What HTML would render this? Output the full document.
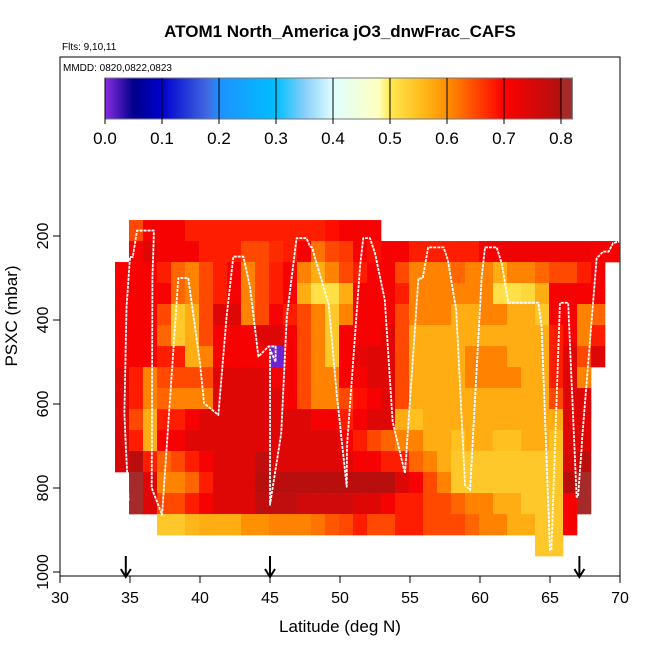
<!DOCTYPE html>
<html><head><meta charset="utf-8">
<style>
html,body{margin:0;padding:0;background:#fff;}
svg{display:block;font-family:"Liberation Sans",Arial,sans-serif;}
</style></head>
<body>
<svg id="chart" width="650" height="650" viewBox="0 0 650 650">
<defs>
<linearGradient id="cbgrad" x1="0" x2="1" y1="0" y2="0"></linearGradient>
</defs>
<text x="340" y="37" text-anchor="middle" font-size="17" font-weight="bold">ATOM1 North_America jO3_dnwFrac_CAFS</text>
<text x="62" y="50" font-size="10">Flts: 9,10,11</text>
<g id="cells"></g>
<g id="track"></g>
<rect x="60" y="57" width="560" height="519" fill="none" stroke="#000" stroke-width="1"/>
<text x="63" y="71" font-size="10">MMDD: 0820,0822,0823</text>
<g id="colorbar"></g>
<g id="xaxis"></g>
<g id="yaxis"></g>
<g id="arrows"></g>
<text x="340" y="632" text-anchor="middle" font-size="17">Latitude (deg N)</text>
<text transform="translate(17,316) rotate(-90)" text-anchor="middle" font-size="17">PSXC (mbar)</text>
</svg>
<script>
const n = null;
const latStart = 33.93;
const presStart = 162;
const presStep = 50;
const row0  = [n,.65,.71,.71,.71,.68,.68,.68,.68,.68,.68,.68,.68,.68,.68,.69,.71,.71,.71,n,n,n,n,n,n,n,n,n,n,n,n,n,n,n,n,n];
const row1  = [n,.71,.74,.71,.71,.71,.68,.68,.68,.65,.65,.67,.68,.71,.62,.65,.66,.71,.69,.71,.71,.68,.68,.68,.68,.68,.71,.72,.72,.72,.72,.72,.72,.72,.71,.71];
const row2  = [.71,.71,.71,.68,.63,.61,.65,.68,.71,.61,.65,.68,.71,.61,.57,.61,.65,.68,.71,.71,.65,.61,.61,.61,.63,.61,.61,.57,.61,.61,.63,.65,.65,.68,.71,n];
const row3  = [.71,.71,.71,.71,.63,.61,.65,.68,.71,.61,.65,.68,.71,.57,.51,.51,.57,.71,.71,.71,.68,.61,.61,.61,.61,.61,.61,.51,.51,.52,.57,.71,.71,.71,.71,n];
const row4  = [.71,.71,.71,.65,.54,.57,.65,.74,.74,.61,.65,.71,.68,.65,.61,.54,.61,.71,.71,.71,.65,.61,.61,.61,.57,.57,.61,.61,.57,.57,.54,.71,.71,.61,.63,n];
const row5  = [.71,.71,.71,.63,.54,.57,.65,.71,.71,.71,.74,.74,.71,.65,.61,.54,.71,.71,.71,.74,.65,.57,.57,.57,.57,.57,.57,.57,.57,.57,.57,.68,.71,.61,.68,n];
const row6  = [.71,.71,.71,.68,.68,.57,.61,.71,.71,.71,.71,.01,.71,.65,.61,.54,.71,.73,.74,.74,.65,.57,.57,.57,.57,.61,.61,.61,.57,.57,.57,.68,.74,.65,.74,n];
const row7  = [.74,.68,.61,.65,.65,.65,.65,.74,.74,.74,.74,.71,.71,.65,.61,.61,.71,.71,.74,.74,.65,.57,.57,.57,.57,.61,.61,.61,.61,.57,.57,.68,.74,.61,n,n];
const row8  = [.74,.68,.61,.63,.61,.61,.61,.74,.74,.74,.74,.74,.71,.65,.61,.61,.65,.69,.71,.74,.65,.57,.57,.57,.57,.57,.57,.57,.57,.57,.57,.65,.74,.74,n,n];
const row9  = [.74,.65,.57,.68,.68,.71,.74,.74,.74,.74,.74,.74,.74,.74,.71,.71,.68,.71,.74,.74,.57,.55,.57,.57,.57,.57,.57,.57,.57,.57,.57,.57,.74,.74,n,n];
const row10 = [.75,.68,.57,.71,.71,.74,.74,.74,.74,.74,.74,.74,.74,.74,.74,.74,.71,.68,.65,.63,.61,.61,.57,.57,.55,.57,.57,.55,.55,.57,.57,.55,.74,.74,n,n];
const row11 = [.75,.79,.68,.63,.65,.68,.71,.74,.74,.74,.78,.74,.74,.74,.74,.74,.74,.71,.71,.68,.68,.63,.61,.57,.54,.54,.54,.54,.54,.54,.54,.54,.75,.79,n,n];
const row12 = [n,.81,.74,.61,.61,.63,.68,.74,.74,.74,.79,.79,.79,.79,.79,.79,.79,.79,.79,.79,.74,.71,.65,.61,.54,.54,.54,.54,.54,.54,.54,.54,.79,.81,n,n];
const row13 = [n,.81,.74,.65,.65,.68,.71,.74,.74,.74,.78,.78,.78,.76,.76,.76,.76,.74,.74,.71,.68,.68,.65,.65,.63,.61,.61,.57,.57,.54,.54,.54,.71,.81,n,n];
const row14 = [n,n,n,.54,.54,.56,.57,.57,.57,.60,.60,.61,.61,.61,.62,.64,.65,.68,.65,.65,.68,.68,.65,.65,.65,.63,.61,.61,.57,.57,.54,.54,.71,n,n,n];
const row15 = [n,n,n,n,n,n,n,n,n,n,n,n,n,n,n,n,n,n,n,n,n,n,n,n,n,n,n,n,n,n,.54,.54,n,n,n,n];
const gridRows = [row0,row1,row2,row3,row4,row5,row6,row7,row8,row9,row10,row11,row12,row13,row14,row15];

const trackLat = [34.9,34.7,34.6,34.75,35.0,35.2,35.5,36.7,36.7,36.6,36.55, 37.29,38.45,39.16,40.0,40.29, 41.31,41.9,42.38,43.1,43.57,44.17, 44.9,45.4,45.4,45.0,45.0, 45.8,46.2,46.9,47.6,47.86,48.0,49.2,49.76, 50.48,50.5,51.43,51.66,52.14,52.5,53.2,53.76, 54.64,55.6,55.9,56.3,57.4,57.7,58.3,58.93,59.29, 60.12,60.36,61.19,61.55,62.02,64.17,64.4,65.0, 65.1,65.71,66.3,66.35,66.9, 67.0,67.26,67.3,68.33,68.8,69.2,69.5,69.95];
const trackPres = [830,700,620,370,250,250,187,187,200,300,800, 864,300,300,503,598, 626,392,249,249,321,487, 463,463,500,470,840, 670,392,205,205,225,227,364,575, 797,700,273,205,205,241,352,642, 765,301,301,227,227,257,376,793,805, 297,227,227,265,359,359,416,948, 948,359,359,400,821, 821,705,680,253,237,237,217,213];

const cbTicks = [0,0.1,0.2,0.3,0.4,0.5,0.6,0.7,0.8];
const xTicks = [30,35,40,45,50,55,60,65,70];
const yTicks = [200,400,600,800,1000];
const arrowLats = [34.7,45.0,67.1];

const stops = [[0,'#8a2be2'],[0.05,'#00008b'],[0.10,'#0000cd'],[0.18,'#4169e1'],[0.20,'#1e90ff'],[0.30,'#00bfff'],[0.35,'#87cefa'],[0.40,'#e0ffff'],[0.48,'#ffffc0'],[0.50,'#ffe850'],[0.55,'#ffc020'],[0.60,'#ff9000'],[0.70,'#ff0000'],[0.80,'#b01010'],[0.80001,'#a52a2a'],[0.82,'#a52a2a']];
function hex(c){return [parseInt(c.substr(1,2),16),parseInt(c.substr(3,2),16),parseInt(c.substr(5,2),16)];}
function color(v){
  for(let i=0;i<stops.length-1;i++){
    if(v<=stops[i+1][0]){
      const t=(v-stops[i][0])/(stops[i+1][0]-stops[i][0]);
      const a=hex(stops[i][1]),b=hex(stops[i+1][1]);
      return 'rgb('+a.map((x,j)=>Math.round(x+(b[j]-x)*Math.max(0,Math.min(1,t)))).join(',')+')';
    }
  }
  return stops[stops.length-1][1];
}
const xScale = lat => 60 + (lat-30)*14;
const yScale = p => 152 + p*0.42;
const cbScale = v => 105 + v*570;
const NS='http://www.w3.org/2000/svg';
function mk(tag,attrs,parent){const e=document.createElementNS(NS,tag);for(const k in attrs)e.setAttribute(k,attrs[k]);parent.appendChild(e);return e;}

const cells=document.getElementById('cells');
gridRows.forEach((row,r)=>{
  row.forEach((v,c)=>{
    if(v===null) return;
    const x0=xScale(latStart+c), x1=xScale(latStart+c+1);
    const y0=yScale(presStart+r*presStep), y1=yScale(presStart+(r+1)*presStep);
    const e=mk('rect',{x:x0,y:y0,width:x1-x0+0.3,height:y1-y0+0.3,fill:color(v)},cells);
    
    
  });
});

const track=document.getElementById('track');
const tl=mk('polyline',{points:trackLat.map((la,i)=>xScale(la)+','+yScale(trackPres[i])).join(' '),fill:'none',stroke:'#fff','stroke-width':1.8,'stroke-linejoin':'round','stroke-dasharray':'3,1'},track);



// colorbar
const cb=document.getElementById('colorbar');
const g=document.getElementById('cbgrad');
stops.forEach(s=>{mk('stop',{offset:(s[0]/0.82),'stop-color':s[1]},g);});
const cbr=mk('rect',{x:105,y:78,width:cbScale(0.82)-105,height:41,fill:'url(#cbgrad)',stroke:'#777','stroke-width':1},cb);


cbTicks.forEach(v=>{
  const x=cbScale(v);
  const l=mk('line',{x1:x,x2:x,y1:78,y2:124,stroke:'#000','stroke-width':1},cb);
  
  
  const t=mk('text',{x:x,y:144,'text-anchor':'middle','font-size':17},cb);
  t.textContent=v.toFixed(1);
  
  
});

const xa=document.getElementById('xaxis');
xTicks.forEach(v=>{
  const x=xScale(v);
  const l=mk('line',{x1:x,x2:x,y1:576,y2:583,stroke:'#000'},xa);
  
  
  const t=mk('text',{x:x,y:603,'text-anchor':'middle','font-size':16},xa);
  t.textContent=v;
  
  
});
const ya=document.getElementById('yaxis');
yTicks.forEach(v=>{
  const y=yScale(v);
  const l=mk('line',{x1:53,x2:60,y1:y,y2:y,stroke:'#000'},ya);
  
  
  const t=mk('text',{transform:'translate(48,'+y+') rotate(-90)','text-anchor':'middle','font-size':16},ya);
  t.textContent=v;
  
  
});

const ar=document.getElementById('arrows');
arrowLats.forEach(la=>{
  const x=xScale(la);
  const p=mk('path',{d:'M'+x+',556 L'+x+',577 M'+(x-5)+',569 L'+x+',577 L'+(x+5)+',569',stroke:'#000','stroke-width':2,fill:'none'},ar);
  
  
});
</script>
</body></html>
